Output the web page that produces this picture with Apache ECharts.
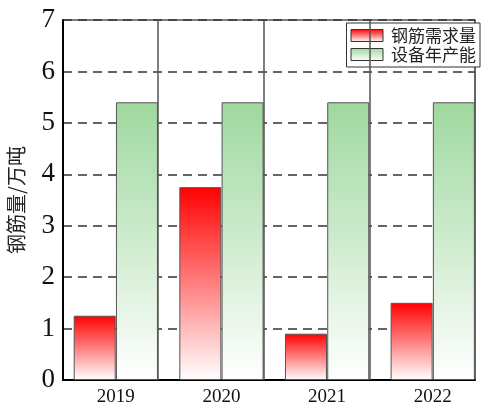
<!DOCTYPE html>
<html>
<head>
<meta charset="utf-8">
<script src="https://cdn.jsdelivr.net/npm/echarts@6/dist/echarts.min.js"></script>
<style>html,body{margin:0;padding:0;background:#fff}#c{width:484px;height:406px}</style>
</head>
<body>
<div id="c"></div>
<script>
var years = ['2019', '2020', '2021', '2022'];
var demand = [1.25, 3.75, 0.9, 1.5];
var capacity = [5.4, 5.4, 5.4, 5.4];
var yTicks = [0, 1, 2, 3, 4, 5, 6, 7];
var seriesNames = ['钢筋需求量', '设备年产能'];

var chart = echarts.init(document.getElementById('c'), null, {renderer: 'canvas'});
var serif = '"Liberation Serif", "Times New Roman", serif';
var cjk = '"Noto Sans CJK SC", sans-serif';

function grad(top) {
  return new echarts.graphic.LinearGradient(0, 0, 0, 1, [
    {offset: 0, color: top},
    {offset: 1, color: '#ffffff'}
  ]);
}

var option = {
  animation: false,
  grid: {left: 63, right: 9, top: 20, bottom: 26, outerBoundsMode: 'none', containLabel: false,
         show: true, borderColor: '#000', borderWidth: 1.2, backgroundColor: 'transparent'},
  legend: {
    data: seriesNames,
    orient: 'vertical',
    right: 4, top: 23,
    padding: [4, 4, 4, 4],
    itemGap: 2,
    itemWidth: 32, itemHeight: 12,
    icon: 'rect',
    borderColor: '#333', borderWidth: 1,
    backgroundColor: '#fff',
    itemStyle: {borderColor: '#333', borderWidth: 1},
    textStyle: {fontFamily: cjk, fontSize: 17, color: '#222', lineHeight: 17, padding: [0, 0, 0, 3]}
  },
  xAxis: {
    type: 'value', min: 0, max: 3.9,
    axisLine: {show: true, lineStyle: {color: '#000', width: 2}},
    axisTick: {show: false},
    splitLine: {show: false},
    axisLabel: {
      customValues: years.map(function (y, i) { return i + 0.5; }),
      formatter: function (v) { return years[Math.round(v - 0.5)]; },
      fontFamily: serif, fontSize: 19, color: '#111', margin: 8
    }
  },
  yAxis: {
    type: 'value', min: yTicks[0], max: yTicks[yTicks.length - 1], interval: 1,
    name: '钢筋量/万吨', nameLocation: 'middle', nameGap: 37, nameRotate: 90,
    nameTextStyle: {fontFamily: cjk, fontSize: 20, color: '#222'},
    axisLine: {show: true, lineStyle: {color: '#000', width: 2}},
    axisTick: {show: false},
    axisLabel: {fontFamily: serif, fontSize: 27, color: '#111', margin: 8},
    splitLine: {show: true, lineStyle: {color: '#333', width: 1.5, type: [9, 6]}}
  },
  series: [
    {
      name: seriesNames[0], type: 'bar',
      barWidth: 42, barGap: '-100%',
      itemStyle: {color: grad('#ff0000'), borderColor: '#555', borderWidth: 1},
      data: demand.map(function (v, i) { return [i + 0.3, v]; }),
      z: 3
    },
    {
      name: seriesNames[1], type: 'bar',
      barWidth: 42, barGap: '-100%',
      itemStyle: {color: grad('#9ed89e'), borderColor: '#555', borderWidth: 1},
      data: capacity.map(function (v, i) { return [i + 0.7, v]; }),
      z: 3,
      markLine: {
        silent: true, symbol: 'none', label: {show: false},
        lineStyle: {color: '#555', width: 1.5, type: 'solid'},
        data: years.slice(0, years.length - 1).map(function (y, i) { return {xAxis: i + 0.9}; })
      }
    }
  ]
};
chart.setOption(option);
</script>
</body>
</html>
